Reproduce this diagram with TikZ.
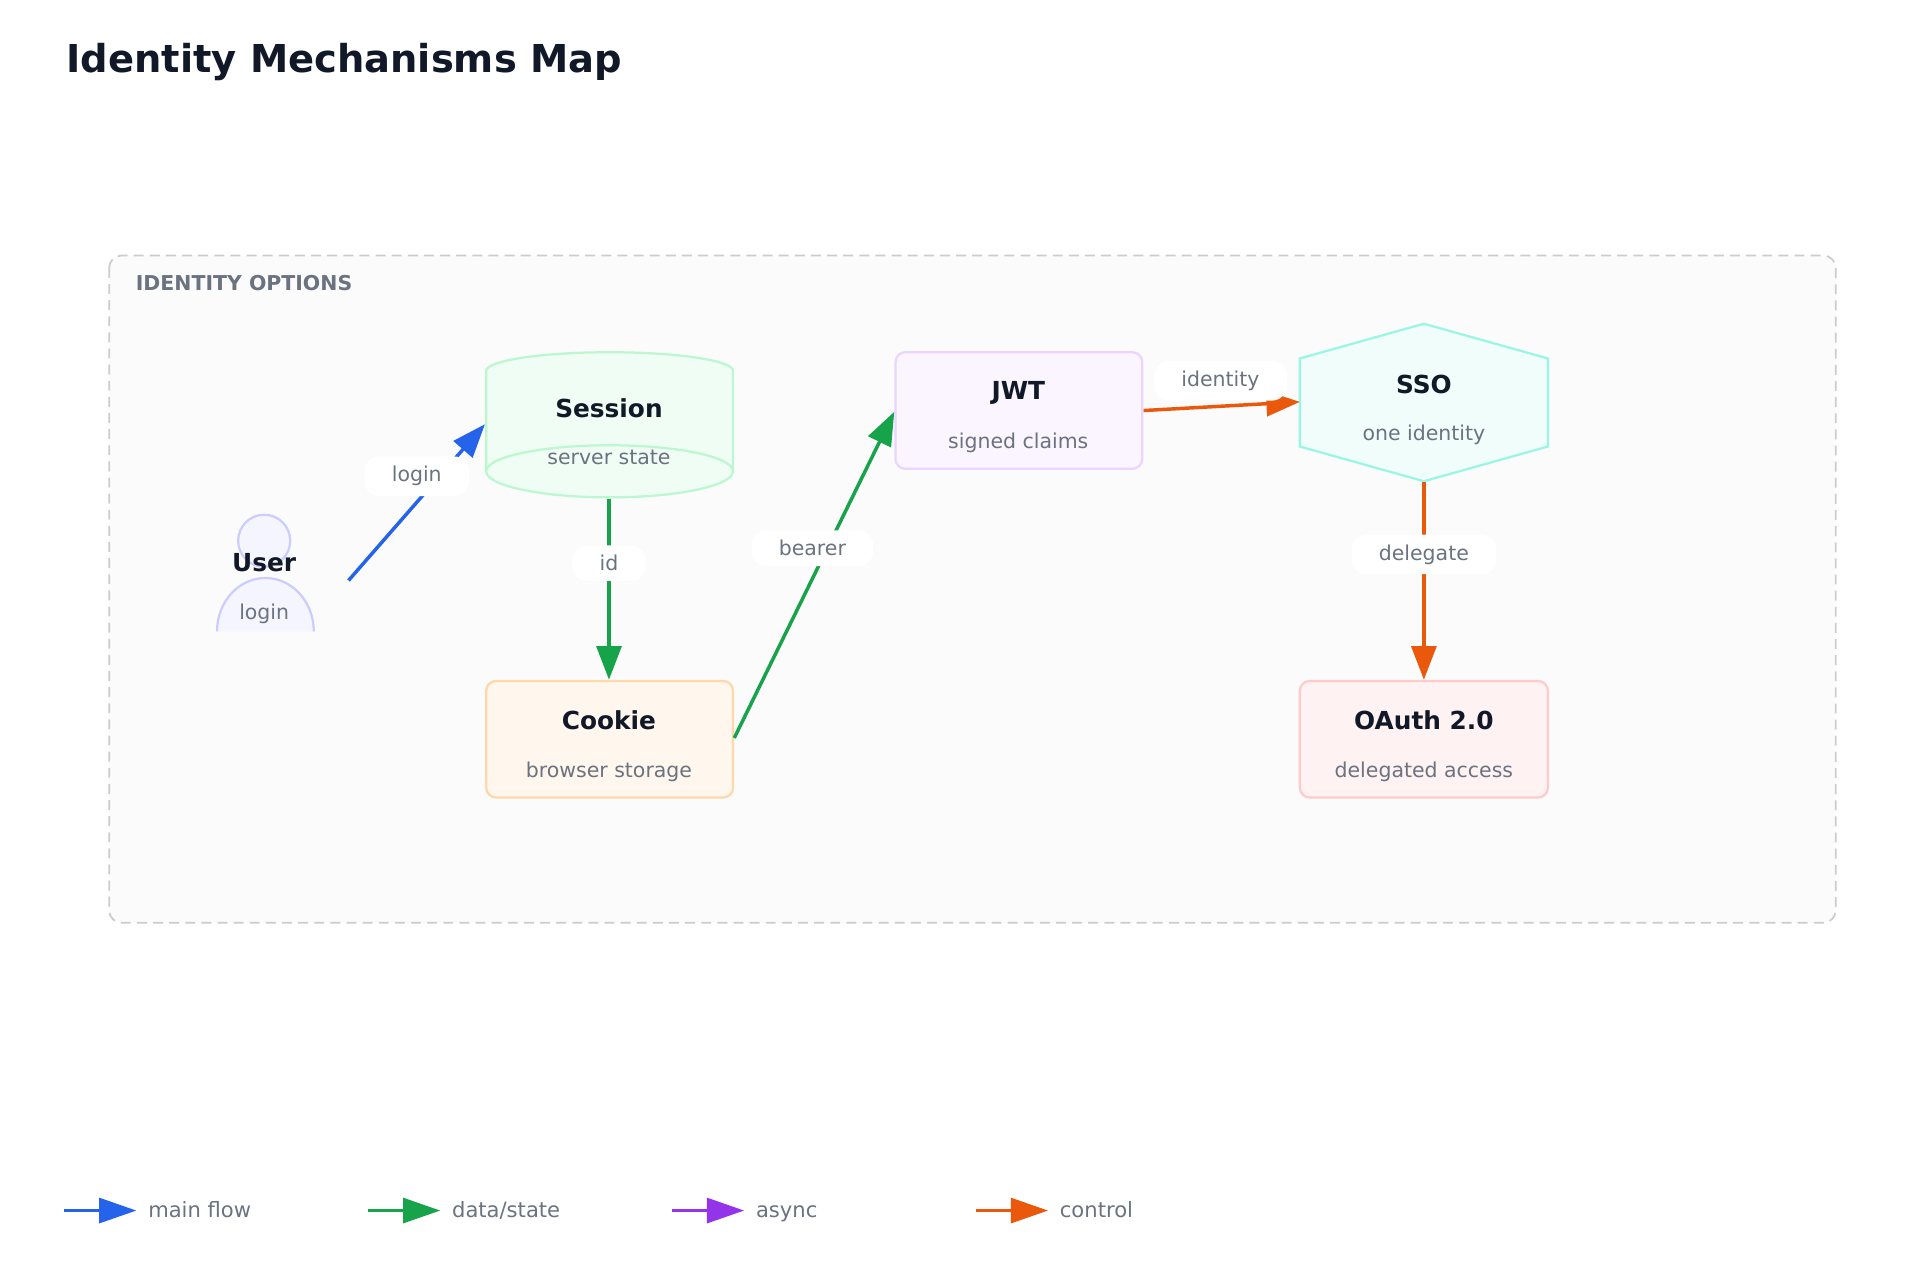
\documentclass[tikz,border=0pt]{standalone}
\usepackage{fontspec}
\setmainfont{DejaVu Sans}
\usetikzlibrary{arrows.meta,shapes.geometric}
\definecolor{ink}{HTML}{111827}
\definecolor{mute}{HTML}{6B7280}
\definecolor{cblue}{HTML}{2563EB}
\definecolor{cgreen}{HTML}{16A34A}
\definecolor{cpurple}{HTML}{9333EA}
\definecolor{corange}{HTML}{EA580C}
\tikzset{
  ttl/.style={font=\fontsize{20}{24}\selectfont\bfseries,text=ink},
  sub/.style={font=\fontsize{16.5}{20}\selectfont,text=mute},
  box/.style={rounded corners=8pt,line width=1.8pt},
  conn/.style={line width=2.8pt,-{Triangle[length=27pt,width=20pt]}},
  elab/.style={font=\fontsize{16.5}{20}\selectfont,text=mute,fill=white,rounded corners=12pt,inner xsep=22pt,inner ysep=8pt},
  legl/.style={line width=2.8pt,-{Triangle[length=30pt,width=20pt]}}
}
\begin{document}
\begin{tikzpicture}[x=1pt,y=-1pt]
\useasboundingbox (0,0) rectangle (1548,1032);
\fill[white] (0,0) rectangle (1548,1032);
\node[anchor=west,font=\fontsize{31}{36}\selectfont\bfseries,text=ink] (title) at (50,50) {Identity Mechanisms Map};
% container
\draw[draw=black!20,fill=black!1.5,line width=1.4pt,rounded corners=10pt,dash pattern=on 8pt off 5pt] (88,206) rectangle (1480,744);
\node[anchor=west,font=\fontsize{16.5}{20}\selectfont\bfseries,text=mute] (grp) at (106,228) {IDENTITY OPTIONS};
% user
\draw[fill=blue!4,draw=blue!20,line width=1.8pt] (175,509) arc[start angle=180,end angle=360,x radius=39,y radius=43];
\draw[fill=blue!4,draw=blue!20,line width=1.8pt] (213,436) circle (21);
\node[ttl] (user) at (213,454) {User};
\node[sub] (userl) at (213,495) {login};
\coordinate (ustart) at (281,468);
% session cylinder
\definecolor{sessf}{HTML}{F0FDF4}\definecolor{sessd}{HTML}{BBF7D0}
\draw[fill=sessf,draw=sessd,line width=1.8pt] (392,299) -- (392,380) arc[start angle=180,end angle=0,x radius=99.5,y radius=21] -- (591,299) arc[start angle=0,end angle=-180,x radius=99.5,y radius=15];
\draw[draw=sessd,line width=1.8pt] (392,380) arc[start angle=180,end angle=360,x radius=99.5,y radius=21];
\node[ttl] (sess) at (491,329) {Session};
\node[sub] (sessl) at (491,369) {server state};
\coordinate (sessW) at (391,342);
\coordinate (sessS) at (491,402);
% JWT
\definecolor{jwtf}{HTML}{FAF5FF}\definecolor{jwtd}{HTML}{E9D5FF}
\draw[box,fill=jwtf,draw=jwtd] (722,284) rectangle (921,378);
\node[ttl] (jwt) at (821,317) {JWT};
\node[sub] (jwtl) at (821,357) {signed claims};
\coordinate (jwtW) at (721,332);
\coordinate (jwtE) at (922,331);
% SSO
\definecolor{ssof}{HTML}{F0FDFA}\definecolor{ssod}{HTML}{99F6E4}
\draw[fill=ssof,draw=ssod,line width=1.8pt] (1148,261) -- (1248,289) -- (1248,360) -- (1148,388) -- (1048,360) -- (1048,289) -- cycle;
\node[ttl] (sso) at (1148,310) {SSO};
\node[sub] (ssol) at (1148,351) {one identity};
\coordinate (ssoW) at (1048,324);
\coordinate (ssoS) at (1148,389);
% Cookie
\definecolor{ckf}{HTML}{FFF7ED}\definecolor{ckd}{HTML}{FED7AA}
\draw[box,fill=ckf,draw=ckd] (392,549) rectangle (591,643);
\node[ttl] (cook) at (491,581) {Cookie};
\node[sub] (cookl) at (491,622) {browser storage};
\coordinate (cookN) at (491,548);
\coordinate (cookE) at (592,595);
% OAuth
\definecolor{oaf}{HTML}{FEF2F2}\definecolor{oad}{HTML}{FECACA}
\draw[box,fill=oaf,draw=oad] (1048,549) rectangle (1248,643);
\node[ttl] (oauth) at (1148,581) {OAuth 2.0};
\node[sub] (oauthl) at (1148,622) {delegated access};
\coordinate (oauthN) at (1148,548);
% edges
\draw[conn,cblue] (ustart) -- (sessW);
\node[elab] (l1) at (336,384) {login};
\draw[conn,cgreen] (sessS) -- (cookN);
\node[elab] (l2) at (491,454) {id};
\draw[conn,cgreen] (cookE) -- (jwtW);
\node[elab] (l3) at (655,442) {bearer};
\draw[conn,corange] (jwtE) -- (ssoW);
\node[elab] (l4) at (984,307) {identity};
\draw[conn,corange] (ssoS) -- (oauthN);
\node[elab] (l5) at (1148,447) {delegate};
% legend
\foreach \x/\c/\t/\n in {52/cblue/main flow/a,297/cgreen/data\slash state/b,542/cpurple/async/c,787/corange/control/d}{
  \coordinate (s\n) at (\x,976);
  \coordinate (e\n) at (\x+58,976);
  \draw[legl,\c] (s\n) -- (e\n);
  \node[anchor=base west,sub,font=\fontsize{17}{20}\selectfont] (t\n) at (\x+64,982) {\t};
}
\end{tikzpicture}
\end{document}
